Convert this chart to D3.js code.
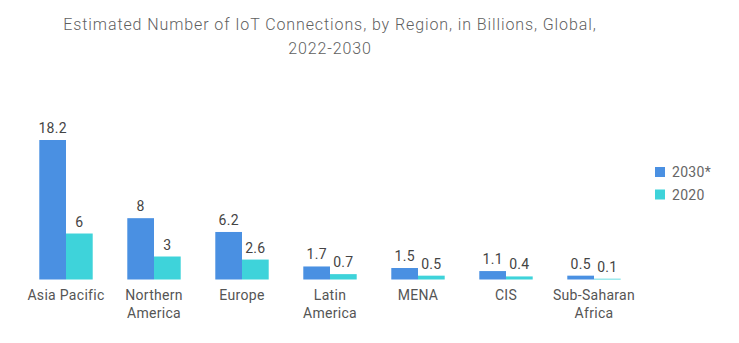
<!DOCTYPE html>
<html>
<head>
<meta charset="utf-8">
<script src="https://cdn.jsdelivr.net/npm/d3@7"></script>
<style>
  body { margin: 0; background: #fff; }
  text { font-family: Roboto, "Open Sans", sans-serif; }
</style>
</head>
<body>
<svg id="chart"></svg>
<script>
var width = 739;
var height = 343;

var regions = [["Asia Pacific"], ["Northern", "America"], ["Europe"], ["Latin", "America"], ["MENA"], ["CIS"], ["Sub-Saharan", "Africa"]];
var seriesNames = ["2030*", "2020"];
var values2030 = [18.2, 8, 6.2, 1.7, 1.5, 1.1, 0.5];
var values2020 = [6, 3, 2.6, 0.7, 0.5, 0.4, 0.1];
var colors = ["#4a90e2", "#3ed3da"];

var svg = d3.select('#chart')
    .attr('width', width)
    .attr('height', height);

// title, two centred lines
var titleLines = ['Estimated Number of IoT Connections, by Region, in Billions, Global,', '2022-2030'];
svg.selectAll('text.title')
    .data(titleLines)
    .enter()
    .append('text')
    .attr('class', 'title')
    .attr('x', 330)
    .attr('y', function (d, i) { return 30 + i * 23.5; })
    .attr('text-anchor', 'middle')
    .style('font-size', '16px')
    .style('font-weight', '300')
    .style('letter-spacing', '0.9px')
    .style('fill', '#5f5f5f')
    .text(function (d) { return d; });

var keys = regions.map(function (r) { return r.join(' '); });

var x = d3.scaleBand()
    .domain(keys)
    .range([22, 638])
    .paddingInner(0.393)
    .paddingOuter(0.1965);

var xSub = d3.scaleBand()
    .domain(seriesNames)
    .range([0, x.bandwidth()]);

var y = d3.scaleLinear()
    .domain([0, 18.2])
    .range([279.5, 140]);

var rows = keys.map(function (k, i) {
    return { key: k, lines: regions[i], vals: [values2030[i], values2020[i]] };
});

var groups = svg.selectAll('g.region')
    .data(rows)
    .enter()
    .append('g')
    .attr('class', 'region')
    .attr('transform', function (d) { return 'translate(' + x(d.key) + ',0)'; });

var cells = groups.selectAll('g.cell')
    .data(function (d) { return d.vals.map(function (v, j) { return { s: seriesNames[j], v: v, j: j }; }); })
    .enter()
    .append('g');

cells.append('rect')
    .attr('x', function (d) { return xSub(d.s); })
    .attr('width', xSub.bandwidth())
    .attr('y', function (d) { return y(d.v); })
    .attr('height', function (d) { return y(0) - y(d.v); })
    .style('fill', function (d) { return colors[d.j]; });

cells.append('text')
    .attr('x', function (d) { return xSub(d.s) + xSub.bandwidth() / 2; })
    .attr('y', function (d) { return y(d.v) - 7; })
    .attr('text-anchor', 'middle')
    .style('font-size', '14px')
    .style('letter-spacing', '0.3px')
    .style('fill', '#444')
    .text(function (d) { return d.v; });

// category labels, wrapped onto two lines where needed
groups.append('text')
    .attr('text-anchor', 'middle')
    .style('font-size', '14px')
    .style('letter-spacing', '0.3px')
    .style('fill', '#555')
    .selectAll('tspan')
    .data(function (d) { return d.lines; })
    .enter()
    .append('tspan')
    .attr('x', x.bandwidth() / 2)
    .attr('y', function (d, i) { return 300 + i * 18; })
    .text(function (d) { return d; });

// legend
var legend = svg.selectAll('g.legend')
    .data(seriesNames)
    .enter()
    .append('g')
    .attr('class', 'legend')
    .attr('transform', function (d, i) { return 'translate(655,' + (167 + i * 22.5) + ')'; });

legend.append('rect')
    .attr('width', 10).attr('height', 10)
    .style('fill', function (d, i) { return colors[i]; });

legend.append('text')
    .attr('x', 17).attr('y', 10)
    .style('font-size', '14px')
    .style('letter-spacing', '0.3px')
    .style('fill', '#666')
    .text(function (d) { return d; });
</script>
</body>
</html>
